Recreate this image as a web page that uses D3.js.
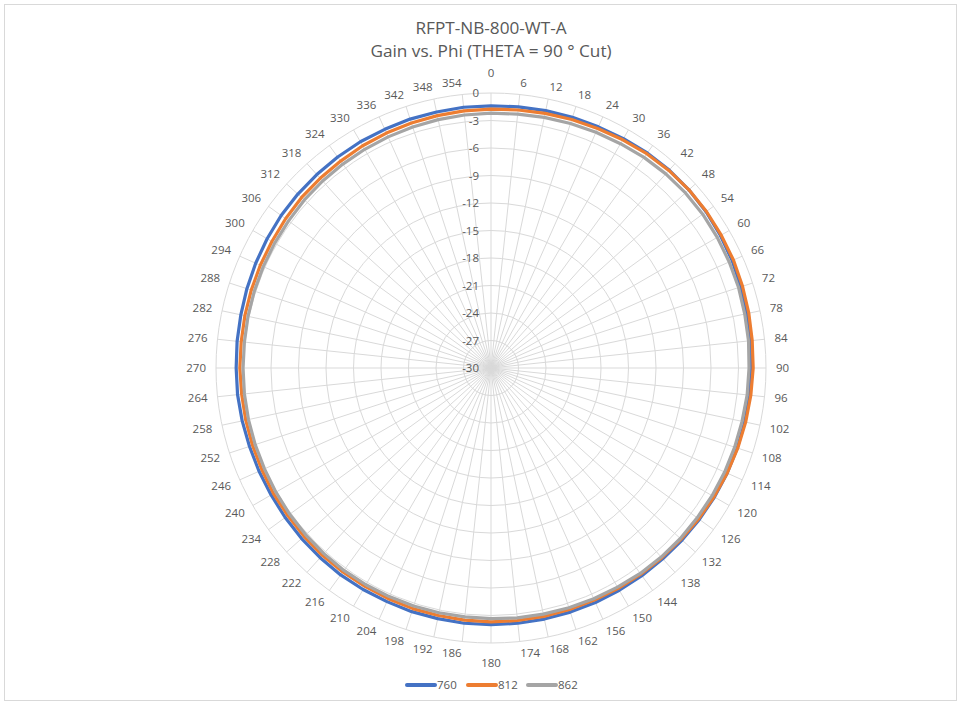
<!DOCTYPE html>
<html><head><meta charset="utf-8">
<script src="https://cdn.jsdelivr.net/npm/d3@7"></script>
<style>body{margin:0;background:#fff;}svg{display:block;}</style>
</head><body><div id="chart"></div>
<script>
const titleLines = ["RFPT-NB-800-WT-A", "Gain vs. Phi (THETA = 90 ° Cut)"];
const phi = d3.range(0, 360, 6);
const ringTicks = [-30, -27, -24, -21, -18, -15, -12, -9, -6, -3, 0];
const seriesNames = ["760", "812", "862"];
const seriesColors = ["#4472C4", "#ED7D31", "#A5A5A5"];
const gain760 = [-1.4,-1.35,-1.3,-1.25,-1.2,-1.1,-1.0,-0.95,-0.95,-1.0,-1.1,-1.2,-1.35,-1.45,-1.55,-1.6,-1.65,-1.7,-1.75,-1.8,-1.85,-1.9,-1.95,-2.0,-2.0,-2.0,-2.0,-2.0,-2.0,-2.0,-2.0,-2.0,-2.05,-2.05,-2.1,-2.1,-2.1,-2.15,-2.2,-2.25,-2.3,-2.3,-2.3,-2.25,-2.2,-2.2,-2.15,-2.1,-2.0,-1.9,-1.8,-1.7,-1.65,-1.6,-1.55,-1.5,-1.5,-1.45,-1.45,-1.4];
const gain812 = [-1.75,-1.7,-1.6,-1.5,-1.4,-1.25,-1.1,-1.0,-0.95,-0.95,-1.0,-1.05,-1.15,-1.25,-1.35,-1.4,-1.5,-1.6,-1.7,-1.8,-1.9,-2.0,-2.1,-2.15,-2.2,-2.25,-2.3,-2.3,-2.3,-2.3,-2.3,-2.35,-2.4,-2.4,-2.45,-2.5,-2.5,-2.5,-2.55,-2.6,-2.6,-2.65,-2.65,-2.65,-2.65,-2.6,-2.6,-2.55,-2.5,-2.45,-2.4,-2.3,-2.2,-2.15,-2.1,-2.0,-1.95,-1.9,-1.85,-1.8];
const gain862 = [-2.2,-2.15,-2.05,-1.95,-1.85,-1.75,-1.6,-1.5,-1.45,-1.45,-1.5,-1.55,-1.6,-1.7,-1.75,-1.85,-1.9,-2.0,-2.05,-2.1,-2.15,-2.2,-2.2,-2.25,-2.3,-2.4,-2.45,-2.5,-2.55,-2.6,-2.65,-2.7,-2.7,-2.7,-2.7,-2.7,-2.7,-2.75,-2.8,-2.85,-2.9,-2.95,-2.95,-2.95,-2.95,-2.95,-2.95,-2.9,-2.85,-2.8,-2.75,-2.7,-2.6,-2.55,-2.5,-2.45,-2.4,-2.35,-2.3,-2.25];
const seriesValues = [gain760, gain812, gain862];

const W = 961, H = 702;
const cx = 491, cy = 368, R = 275;
const font = "'Open Sans', 'Noto Sans', sans-serif";
const textColor = "#595959";
const gridColor = "#d9d9d9";

const svg = d3.select("#chart").append("svg").attr("width", W).attr("height", H);
svg.append("rect").attr("x", 4.5).attr("y", 4.5).attr("width", W - 9).attr("height", H - 6)
  .attr("fill", "#fff").attr("stroke", gridColor).attr("stroke-width", 1);

const r = d3.scaleLinear().domain([-30, 0]).range([0, R]);
const a = d3.scaleLinear().domain([0, 360]).range([0, 2 * Math.PI]);

const g = svg.append("g").attr("transform", `translate(${cx},${cy})`);

// spokes
g.selectAll("line.spoke").data(phi).join("line").attr("class", "spoke")
  .attr("x1", 0).attr("y1", 0)
  .attr("x2", d => r(0) * Math.sin(a(d)))
  .attr("y2", d => -r(0) * Math.cos(a(d)))
  .attr("stroke", gridColor).attr("stroke-width", 1);

// rings
g.selectAll("circle.ring").data(ringTicks.slice(1)).join("circle").attr("class", "ring")
  .attr("r", d => r(d)).attr("fill", "none").attr("stroke", gridColor).attr("stroke-width", 1);

// series lines
const line = d3.lineRadial().angle((d, i) => a(phi[i])).radius(d => r(d)).curve(d3.curveLinearClosed);
seriesValues.forEach((vals, k) => {
  g.append("path").datum(vals).attr("d", line)
    .attr("fill", "none").attr("stroke", seriesColors[k]).attr("stroke-width", 3.2)
    .attr("stroke-linejoin", "round");
});

// radial labels
g.selectAll("text.rlab").data(ringTicks).join("text").attr("class", "rlab")
  .attr("x", -12).attr("y", d => -r(d)).attr("dy", "0.35em")
  .attr("text-anchor", "end").attr("font-family", font).attr("font-size", 11.5)
  .attr("fill", textColor).text(d => d);

// angle labels: box corner nearest the centre sits just outside the outer ring
const labR = d => R + 5 + 5 * Math.abs(Math.sin(a(d)));
g.selectAll("text.alab").data(phi).join("text").attr("class", "alab")
  .each(function(d) {
    const s = Math.sin(a(d)), c = Math.cos(a(d));
    const t = d3.select(this);
    if (d === 0 || d === 180) {
      t.attr("x", 0).attr("y", -(R + 20) * c).attr("text-anchor", "middle");
    } else {
      t.attr("x", labR(d) * s).attr("y", -labR(d) * c - 6 * c)
       .attr("text-anchor", s > 0 ? "start" : "end");
    }
  })
  .attr("dy", "0.35em").attr("font-family", font).attr("font-size", 11.5)
  .attr("fill", textColor).text(d => d);

// title
svg.selectAll("text.title").data(titleLines).join("text").attr("class", "title")
  .attr("x", 491).attr("y", (d, i) => 33.5 + i * 23)
  .attr("text-anchor", "middle").attr("font-family", font).attr("font-size", 17.2)
  .attr("fill", textColor).text(d => d);

// legend
const legX = [407, 468, 528];
const lg = svg.append("g").attr("transform", "translate(0,685)");
seriesNames.forEach((n, k) => {
  lg.append("line").attr("x1", legX[k]).attr("x2", legX[k] + 28).attr("y1", 0).attr("y2", 0)
    .attr("stroke", seriesColors[k]).attr("stroke-width", 4).attr("stroke-linecap", "round");
  lg.append("text").attr("x", legX[k] + 30).attr("y", 0).attr("dy", "0.35em")
    .attr("font-family", font).attr("font-size", 11.5).attr("fill", textColor).text(n);
});
</script></body></html>
